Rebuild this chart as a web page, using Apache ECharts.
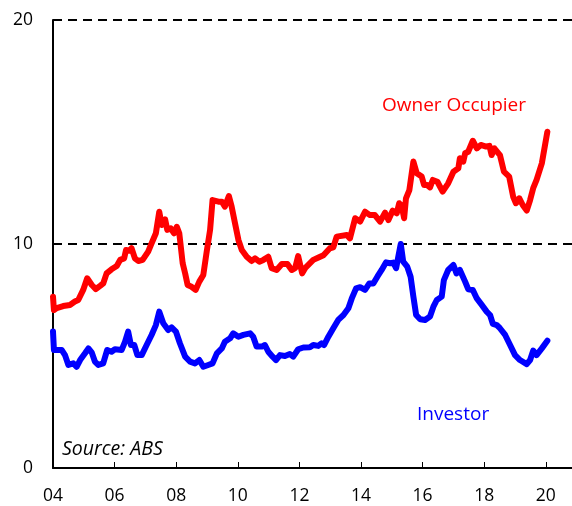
<!DOCTYPE html>
<html>
<head>
<meta charset="utf-8">
<script src="https://cdn.jsdelivr.net/npm/echarts@6/dist/echarts.min.js"></script>
<style>
  html, body { margin: 0; padding: 0; background: #fff; }
  #chart { width: 572px; height: 506px; }
</style>
</head>
<body>
<div id="chart"></div>
<script>
// decimal years + values
const ownerYears = [2004.00, 2004.03, 2004.12, 2004.33, 2004.55, 2004.71, 2004.82, 2004.98, 2005.11, 2005.26,
  2005.39, 2005.53, 2005.63, 2005.74, 2005.90, 2006.07, 2006.18, 2006.31, 2006.37, 2006.48,
  2006.55, 2006.66, 2006.77, 2006.91, 2007.09, 2007.20, 2007.34, 2007.45, 2007.53, 2007.64,
  2007.71, 2007.82, 2007.93, 2008.02, 2008.10, 2008.21, 2008.29, 2008.37, 2008.50, 2008.63,
  2008.75, 2008.88, 2008.99, 2009.10, 2009.18, 2009.37, 2009.48, 2009.58, 2009.71, 2009.80,
  2009.91, 2010.02, 2010.13, 2010.29, 2010.45, 2010.56, 2010.70, 2010.83, 2010.99, 2011.10,
  2011.26, 2011.43, 2011.61, 2011.75, 2011.86, 2011.96, 2012.09, 2012.20, 2012.45, 2012.62,
  2012.78, 2012.99, 2013.10, 2013.21, 2013.54, 2013.64, 2013.81, 2013.97, 2014.13, 2014.29,
  2014.45, 2014.62, 2014.78, 2014.89, 2015.03, 2015.16, 2015.24, 2015.32, 2015.40, 2015.46,
  2015.57, 2015.70, 2015.81, 2015.97, 2016.05, 2016.15, 2016.24, 2016.33, 2016.48, 2016.65,
  2016.83, 2017.00, 2017.16, 2017.21, 2017.32, 2017.38, 2017.48, 2017.63, 2017.76, 2017.89,
  2018.06, 2018.17, 2018.24, 2018.33, 2018.51, 2018.64, 2018.81, 2018.94, 2019.03, 2019.14,
  2019.25, 2019.38, 2019.49, 2019.59, 2019.70, 2019.87, 2020.05];
const ownerValues = [7.65, 7.05, 7.14, 7.23, 7.28, 7.43, 7.50, 7.95, 8.47, 8.17,
  7.99, 8.13, 8.24, 8.69, 8.87, 9.02, 9.29, 9.36, 9.73, 9.70,
  9.81, 9.36, 9.24, 9.29, 9.66, 10.03, 10.48, 11.44, 10.85, 11.10,
  10.63, 10.70, 10.48, 10.77, 10.48, 9.14, 8.69, 8.17, 8.09, 7.95,
  8.32, 8.62, 9.66, 10.63, 11.96, 11.89, 11.89, 11.67, 12.14, 11.67,
  10.92, 10.18, 9.73, 9.43, 9.24, 9.36, 9.21, 9.29, 9.43, 8.92,
  8.84, 9.11, 9.11, 8.84, 8.92, 9.46, 8.69, 8.95, 9.29, 9.40,
  9.50, 9.81, 9.85, 10.33, 10.40, 10.25, 11.15, 11.00, 11.44, 11.29,
  11.29, 11.00, 11.40, 11.07, 11.49, 11.37, 11.82, 11.70, 11.15, 12.04,
  12.41, 13.68, 13.16, 13.01, 12.63, 12.63, 12.53, 12.86, 12.78, 12.34,
  12.71, 13.23, 13.38, 13.83, 13.68, 14.05, 14.12, 14.61, 14.27, 14.42,
  14.35, 14.38, 13.97, 14.27, 13.97, 13.23, 13.01, 12.11, 11.82, 12.04,
  11.74, 11.49, 11.96, 12.49, 12.86, 13.60, 15.01];

const investorYears = [2004.00, 2004.03, 2004.28, 2004.39, 2004.50, 2004.66, 2004.77, 2004.88, 2005.04, 2005.15,
  2005.26, 2005.36, 2005.47, 2005.63, 2005.76, 2005.90, 2006.01, 2006.23, 2006.34, 2006.44,
  2006.53, 2006.64, 2006.74, 2006.88, 2007.04, 2007.20, 2007.34, 2007.45, 2007.58, 2007.74,
  2007.85, 2007.99, 2008.12, 2008.29, 2008.45, 2008.61, 2008.75, 2008.88, 2009.04, 2009.18,
  2009.32, 2009.48, 2009.58, 2009.75, 2009.85, 2010.02, 2010.18, 2010.40, 2010.50, 2010.61,
  2010.78, 2010.88, 2010.99, 2011.13, 2011.24, 2011.37, 2011.53, 2011.69, 2011.80, 2011.96,
  2012.13, 2012.34, 2012.45, 2012.61, 2012.72, 2012.80, 2012.94, 2013.10, 2013.26, 2013.43,
  2013.59, 2013.70, 2013.84, 2013.97, 2014.13, 2014.27, 2014.40, 2014.53, 2014.67, 2014.81,
  2014.94, 2015.05, 2015.14, 2015.21, 2015.29, 2015.37, 2015.50, 2015.61, 2015.70, 2015.79,
  2015.92, 2016.08, 2016.24, 2016.35, 2016.46, 2016.62, 2016.69, 2016.83, 2017.00, 2017.10,
  2017.21, 2017.38, 2017.48, 2017.63, 2017.76, 2017.92, 2018.08, 2018.19, 2018.28, 2018.41,
  2018.51, 2018.68, 2018.84, 2019.00, 2019.16, 2019.38, 2019.49, 2019.59, 2019.70, 2019.87,
  2020.05];
const investorValues = [6.09, 5.27, 5.27, 5.04, 4.60, 4.67, 4.52, 4.82, 5.12, 5.34,
  5.15, 4.75, 4.60, 4.67, 5.27, 5.19, 5.30, 5.27, 5.64, 6.09,
  5.49, 5.49, 5.04, 5.04, 5.49, 5.94, 6.38, 6.98, 6.46, 6.16,
  6.28, 6.09, 5.57, 4.97, 4.75, 4.67, 4.82, 4.52, 4.60, 4.67,
  5.12, 5.34, 5.64, 5.79, 6.01, 5.86, 5.94, 6.01, 5.86, 5.42,
  5.42, 5.49, 5.19, 4.97, 4.82, 5.04, 5.00, 5.09, 4.97, 5.30,
  5.38, 5.39, 5.49, 5.45, 5.57, 5.49, 5.86, 6.24, 6.61, 6.83,
  7.13, 7.57, 8.02, 8.07, 7.95, 8.24, 8.24, 8.54, 8.84, 9.18,
  9.14, 9.17, 8.92, 9.43, 10.00, 9.21, 8.99, 8.54, 7.65, 6.83,
  6.64, 6.61, 6.76, 7.20, 7.50, 7.65, 8.39, 8.84, 9.06, 8.69,
  8.84, 8.32, 7.98, 7.95, 7.57, 7.28, 6.98, 6.83, 6.43, 6.38,
  6.24, 5.94, 5.49, 5.04, 4.82, 4.64, 4.82, 5.24, 5.04, 5.34,
  5.68];

const yTicks = [0, 10, 20];

const pair = (xs, ys) => xs.map((x, i) => [x, ys[i]]);

const chart = echarts.init(document.getElementById("chart"));
const font = "'Open Sans', sans-serif";

chart.setOption({
  animation: false,
  grid: { left: 53, right: 0, top: 20, bottom: 38 },
  xAxis: {
    type: "value",
    min: 2004,
    max: 2020.85,
    interval: 2,
    axisLine: { lineStyle: { color: "#000", width: 2 } },
    axisTick: { inside: true, length: 6, lineStyle: { color: "#000", width: 1 } },
    axisLabel: {
      color: "#000",
      fontFamily: font,
      fontSize: 17.5,
      margin: 19,
      showMaxLabel: false,
      formatter: (v) => String(Math.round(v) % 100).padStart(2, "0"),
    },
    splitLine: { show: false },
  },
  yAxis: {
    type: "value",
    min: yTicks[0],
    max: yTicks[yTicks.length - 1],
    interval: 10,
    axisLine: { show: true, lineStyle: { color: "#000", width: 2 } },
    axisTick: { show: false },
    axisLabel: { color: "#000", fontFamily: font, fontSize: 17.5, margin: 20 },
    splitLine: { show: true, lineStyle: { color: "#000", width: 2, type: [9, 6] } },
  },
  series: [
    {
      name: "Owner Occupier",
      type: "line",
      data: pair(ownerYears, ownerValues),
      showSymbol: false,
      lineStyle: { color: "#ff0000", width: 6, cap: "round", join: "round" },
      z: 3,
    },
    {
      name: "Investor",
      type: "line",
      data: pair(investorYears, investorValues),
      showSymbol: false,
      lineStyle: { color: "#0000ff", width: 6, cap: "round", join: "round" },
      z: 3,
    },
  ],
  graphic: [
    { type: "text", left: 382, top: 96, style: { text: "Owner Occupier", fill: "#ff0000", font: "19px " + font } },
    { type: "text", left: 417, top: 405, style: { text: "Investor", fill: "#0000ff", font: "19px " + font } },
    { type: "text", left: 62, top: 439, style: { text: "Source: ABS", fill: "#000", font: "italic 19.5px " + font } },
  ],
});
</script>
</body>
</html>
